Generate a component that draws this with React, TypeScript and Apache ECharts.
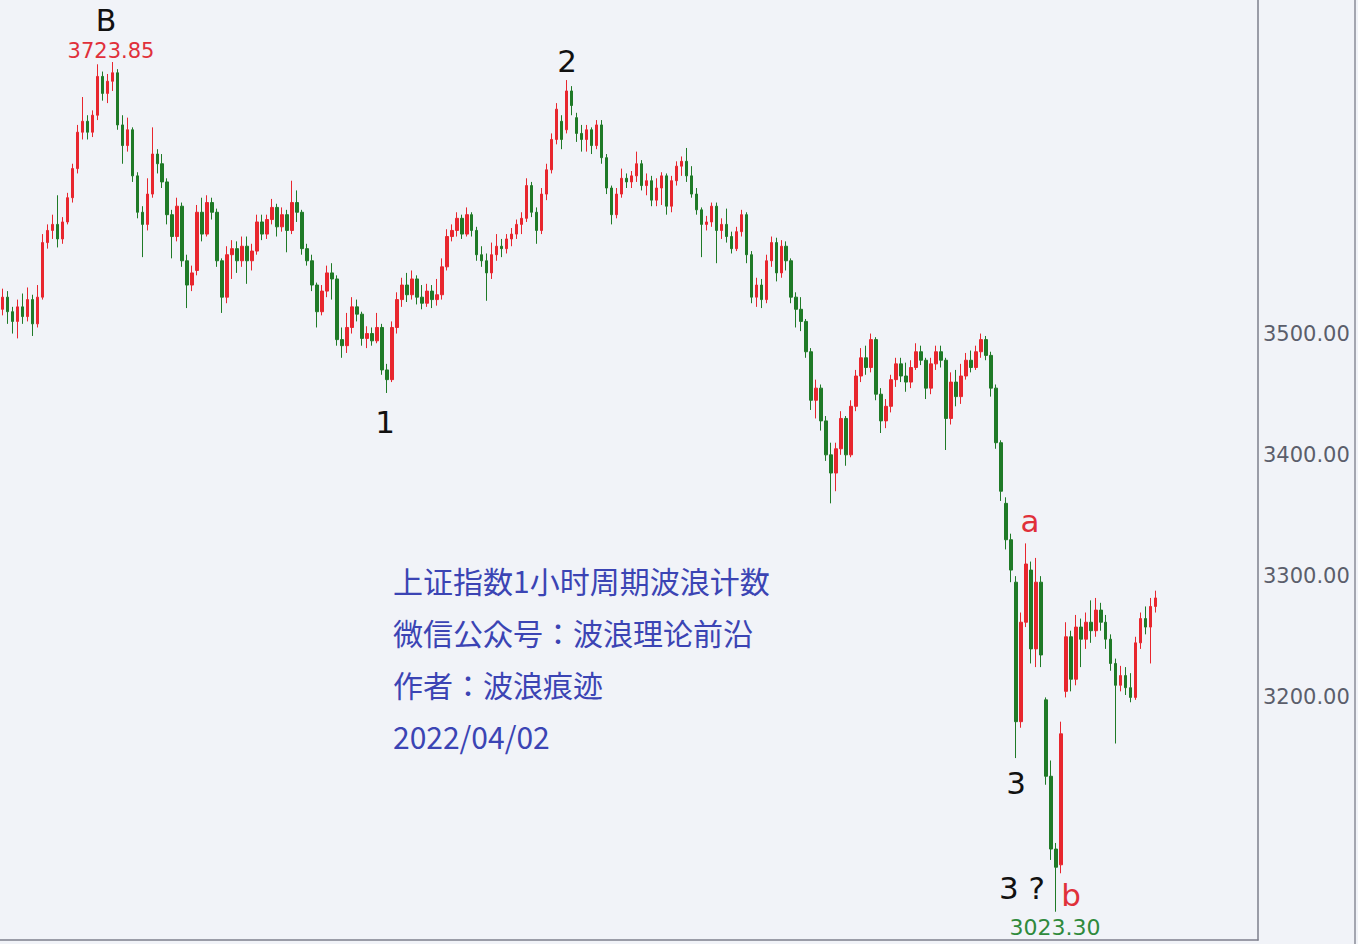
import React, { useEffect, useRef } from "react";
import * as echarts from "echarts";

// Hourly bars of the Shanghai Composite, [open, close, low, high]
const opens = [
  3520, 3530, 3518, 3510, 3522, 3514, 3528, 3508, 3530, 3575, 3585, 3590, 3578, 3592, 3612, 3636, 3666, 3675, 3666, 3680,
  3712, 3698, 3708, 3715, 3672, 3655, 3668, 3630, 3600, 3590, 3615, 3648, 3640, 3625, 3598, 3580, 3605, 3560, 3540, 3552,
  3600, 3582, 3608, 3600, 3560, 3530, 3565, 3570, 3560, 3572, 3560, 3568, 3592, 3582, 3594, 3604, 3588, 3598, 3585, 3608,
  3600, 3570, 3560, 3540, 3518, 3535, 3550, 3545, 3495, 3490, 3505, 3522, 3516, 3496, 3500, 3494, 3505, 3470, 3462, 3505,
  3528, 3540, 3532, 3545, 3530, 3525, 3535, 3528, 3532, 3555, 3580, 3585, 3595, 3582, 3598, 3585, 3565, 3560, 3550, 3565,
  3572, 3570, 3578, 3582, 3590, 3595, 3622, 3600, 3585, 3615, 3635, 3660, 3675, 3668, 3700, 3678, 3665, 3660, 3668, 3655,
  3672, 3645, 3620, 3598, 3615, 3628, 3625, 3630, 3640, 3622, 3626, 3610, 3620, 3630, 3605, 3626, 3638, 3642, 3630, 3615,
  3602, 3590, 3592, 3605, 3585, 3590, 3580, 3570, 3584, 3598, 3565, 3530, 3540, 3528, 3560, 3575, 3550, 3572, 3560, 3530,
  3520, 3510, 3485, 3445, 3455, 3428, 3400, 3385, 3405, 3430, 3400, 3440, 3465, 3480, 3472, 3495, 3450, 3428, 3440, 3462,
  3475, 3465, 3460, 3472, 3485, 3478, 3455, 3475, 3485, 3478, 3430, 3460, 3448, 3465, 3478, 3472, 3485, 3495, 3482, 3455,
  3410, 3360, 3330, 3295, 3180, 3262, 3305, 3240, 3295, 3198, 3135, 3075, 3062, 3205, 3250, 3215, 3258, 3248, 3262, 3255,
  3272, 3262, 3248, 3228, 3210, 3218, 3208, 3200, 3245, 3265, 3258, 3275,
];
const closes = [
  3530, 3518, 3510, 3522, 3514, 3528, 3508, 3530, 3575, 3585, 3590, 3578, 3592, 3612, 3636, 3666, 3675, 3666, 3680, 3712,
  3698, 3708, 3715, 3672, 3655, 3668, 3630, 3600, 3590, 3615, 3648, 3640, 3625, 3598, 3580, 3605, 3560, 3540, 3550, 3600,
  3582, 3608, 3600, 3560, 3530, 3565, 3570, 3560, 3572, 3560, 3568, 3592, 3582, 3594, 3604, 3588, 3598, 3585, 3608, 3600,
  3570, 3560, 3540, 3518, 3535, 3550, 3545, 3495, 3490, 3505, 3522, 3516, 3496, 3500, 3494, 3505, 3470, 3462, 3505, 3528,
  3540, 3532, 3545, 3530, 3525, 3535, 3528, 3532, 3555, 3580, 3585, 3595, 3582, 3598, 3585, 3565, 3560, 3550, 3565, 3572,
  3570, 3578, 3582, 3590, 3595, 3622, 3600, 3585, 3615, 3635, 3660, 3685, 3660, 3700, 3688, 3665, 3660, 3668, 3655, 3672,
  3645, 3620, 3598, 3615, 3628, 3625, 3630, 3640, 3622, 3626, 3610, 3620, 3630, 3605, 3626, 3638, 3642, 3630, 3615, 3602,
  3590, 3592, 3605, 3585, 3590, 3580, 3570, 3584, 3598, 3565, 3530, 3540, 3528, 3560, 3575, 3550, 3572, 3560, 3530, 3520,
  3510, 3485, 3445, 3455, 3428, 3400, 3385, 3405, 3430, 3400, 3440, 3465, 3480, 3472, 3495, 3450, 3428, 3440, 3462, 3475,
  3465, 3460, 3472, 3485, 3478, 3455, 3475, 3485, 3478, 3430, 3460, 3448, 3465, 3478, 3472, 3485, 3495, 3482, 3455, 3410,
  3370, 3330, 3305, 3180, 3262, 3310, 3240, 3295, 3235, 3135, 3075, 3060, 3170, 3250, 3215, 3258, 3248, 3262, 3255, 3272,
  3262, 3248, 3228, 3210, 3218, 3208, 3200, 3245, 3265, 3258, 3275, 3282,
];
const lows = [
  3515, 3508, 3500, 3496, 3508, 3510, 3498, 3505, 3528, 3570, 3578, 3571, 3574, 3590, 3608, 3632, 3660, 3660, 3662, 3676,
  3692, 3690, 3700, 3668, 3640, 3650, 3625, 3595, 3563, 3585, 3612, 3632, 3620, 3590, 3562, 3576, 3555, 3521, 3535, 3548,
  3576, 3580, 3594, 3555, 3517, 3525, 3545, 3550, 3555, 3541, 3552, 3565, 3577, 3578, 3590, 3580, 3584, 3567, 3582, 3592,
  3565, 3556, 3535, 3505, 3515, 3530, 3528, 3490, 3480, 3484, 3500, 3510, 3490, 3488, 3490, 3492, 3466, 3451, 3460, 3500,
  3522, 3526, 3528, 3524, 3520, 3522, 3521, 3523, 3528, 3552, 3576, 3580, 3578, 3580, 3580, 3560, 3555, 3527, 3545, 3560,
  3563, 3566, 3572, 3578, 3582, 3592, 3596, 3574, 3582, 3610, 3632, 3656, 3652, 3665, 3680, 3658, 3650, 3650, 3648, 3652,
  3640, 3615, 3590, 3595, 3612, 3620, 3620, 3625, 3618, 3614, 3605, 3605, 3606, 3598, 3600, 3622, 3630, 3625, 3612, 3598,
  3563, 3585, 3588, 3558, 3578, 3575, 3566, 3568, 3580, 3558, 3525, 3522, 3521, 3525, 3555, 3543, 3546, 3552, 3525, 3505,
  3502, 3480, 3437, 3430, 3420, 3395, 3360, 3370, 3400, 3391, 3398, 3436, 3460, 3466, 3468, 3445, 3418, 3422, 3435, 3456,
  3460, 3452, 3455, 3470, 3474, 3446, 3450, 3470, 3472, 3404, 3425, 3440, 3442, 3462, 3468, 3470, 3480, 3478, 3448, 3405,
  3362, 3322, 3295, 3150, 3175, 3258, 3228, 3225, 3225, 3128, 3066, 3023.3, 3055, 3200, 3205, 3210, 3225, 3240, 3245, 3250,
  3255, 3240, 3222, 3162, 3205, 3202, 3196, 3198, 3240, 3252, 3228, 3270,
];
const highs = [
  3537, 3535, 3522, 3528, 3533, 3538, 3532, 3540, 3582, 3590, 3598, 3614, 3596, 3616, 3640, 3672, 3695, 3680, 3684, 3722,
  3716, 3714, 3723.85, 3718, 3680, 3678, 3670, 3633, 3605, 3628, 3670, 3652, 3648, 3628, 3602, 3612, 3608, 3565, 3556, 3606,
  3612, 3614, 3612, 3603, 3562, 3572, 3577, 3576, 3580, 3580, 3574, 3598, 3598, 3598, 3611, 3607, 3604, 3602, 3626, 3618,
  3602, 3574, 3565, 3542, 3540, 3556, 3558, 3548, 3505, 3517, 3530, 3528, 3518, 3506, 3505, 3517, 3508, 3475, 3510, 3534,
  3546, 3550, 3552, 3548, 3540, 3541, 3540, 3545, 3562, 3586, 3590, 3600, 3598, 3604, 3600, 3588, 3572, 3566, 3575, 3582,
  3578, 3582, 3587, 3594, 3600, 3628, 3625, 3604, 3620, 3640, 3665, 3690, 3680, 3709, 3704, 3682, 3672, 3672, 3670, 3676,
  3676, 3648, 3622, 3620, 3636, 3632, 3634, 3650, 3643, 3632, 3630, 3628, 3633, 3632, 3630, 3642, 3646, 3653, 3638, 3620,
  3604, 3597, 3608, 3608, 3595, 3603, 3584, 3588, 3602, 3600, 3568, 3546, 3545, 3565, 3580, 3579, 3577, 3576, 3562, 3534,
  3530, 3512, 3488, 3462, 3458, 3432, 3410, 3410, 3436, 3432, 3445, 3470, 3488, 3490, 3500, 3497, 3455, 3446, 3466, 3480,
  3480, 3476, 3478, 3492, 3490, 3480, 3480, 3490, 3490, 3480, 3468, 3470, 3475, 3484, 3486, 3490, 3500, 3498, 3485, 3458,
  3412, 3365, 3335, 3300, 3270, 3327, 3312, 3315, 3300, 3200, 3148, 3080, 3180, 3262, 3255, 3268, 3265, 3270, 3280, 3282,
  3278, 3268, 3252, 3232, 3226, 3225, 3220, 3250, 3270, 3275, 3282, 3288,
];

const slotCount = 252; // hourly slots on the x axis (the last ones are still empty)
const categories = Array.from({ length: slotCount }, (_, i) => String(i + 1));
const shownTicks = [3200, 3300, 3400, 3500];
const noteLines = ["上证指数1小时周期波浪计数", "微信公众号：波浪理论前沿", "作者：波浪痕迹", "2022/04/02"];

const UP = "#e8262e";
const DOWN = "#1f7a27";
const LABEL_FONT = '31px "DejaVu Sans", sans-serif';

export default function App() {
  const ref = useRef<HTMLDivElement>(null);

  useEffect(() => {
    if (!ref.current) return;
    const chart = echarts.init(ref.current, null, { renderer: "svg" });
    const data = opens.map((o, i) => [o, closes[i], lows[i], highs[i]]);
    const maxHigh = Math.max(...highs);
    const minLow = Math.min(...lows);

    const txt = (text: string, x: number, y: number, fill: string, font: string, align = "center") => ({
      type: "text",
      x,
      y,
      z: 100,
      style: {
        text,
        fill,
        font,
        textAlign: align,
        textVerticalAlign: "middle",
        align,
        verticalAlign: "middle",
      },
    });

    chart.setOption({
      animation: false,
      backgroundColor: "#f1f3f8",
      grid: { left: 0, right: 100, top: 0, bottom: 4 },
      xAxis: {
        type: "category",
        data: categories,
        boundaryGap: true,
        axisLine: { show: true, lineStyle: { color: "#7d7f8c", width: 1.5 } },
        axisTick: { show: false },
        axisLabel: { show: false },
        splitLine: { show: false },
      },
      yAxis: {
        type: "value",
        position: "right",
        min: 3000,
        max: 3775,
        interval: 100,
        axisLine: { show: true, lineStyle: { color: "#7d7f8c", width: 1.5 } },
        axisTick: { show: false },
        splitLine: { show: false },
        axisLabel: {
          margin: 5,
          color: "#5b5e6b",
          fontSize: 21,
          fontFamily: '"DejaVu Sans", sans-serif',
          formatter: (v: number) => (shownTicks.includes(v) ? v.toFixed(2) : ""),
        },
      },
      series: [
        {
          type: "candlestick",
          data,
          barWidth: 3,
          itemStyle: {
            color: UP,
            color0: DOWN,
            borderColor: UP,
            borderColor0: DOWN,
            borderWidth: 1,
          },
        },
      ],
      graphic: [
        {
          type: "line",
          shape: { x1: 1355, y1: 0, x2: 1355, y2: 944 },
          style: { stroke: "#8a8c98", lineWidth: 1.5 },
        },
        txt(maxHigh.toFixed(2), 111, 51, "#e0303a", '21px "DejaVu Sans", sans-serif'),
        txt("B", 106, 20, "#111111", '30px "DejaVu Sans", sans-serif'),
        txt("2", 567, 61, "#111111", LABEL_FONT),
        txt("1", 385, 422, "#111111", LABEL_FONT),
        txt("a", 1030, 521, "#e0303a", LABEL_FONT),
        txt("3", 1016, 783, "#111111", LABEL_FONT),
        txt("3 ?", 1022, 888, "#111111", LABEL_FONT),
        txt("b", 1071, 895, "#e0303a", LABEL_FONT),
        txt(minLow.toFixed(2), 1055, 927, "#2f8a3c", '22px "DejaVu Sans", sans-serif'),
        ...noteLines.map((line, i) =>
          txt(line, 393, 580 + i * 52, "#3b44b4", '30px "Noto Sans CJK JP", "Noto Sans CJK SC", sans-serif', "left")
        ),
      ],
    });

    return () => chart.dispose();
  }, []);

  return (
    <div
      ref={ref}
      style={{ position: "absolute", left: 0, top: 0, width: 1358, height: 944 }}
    />
  );
}
